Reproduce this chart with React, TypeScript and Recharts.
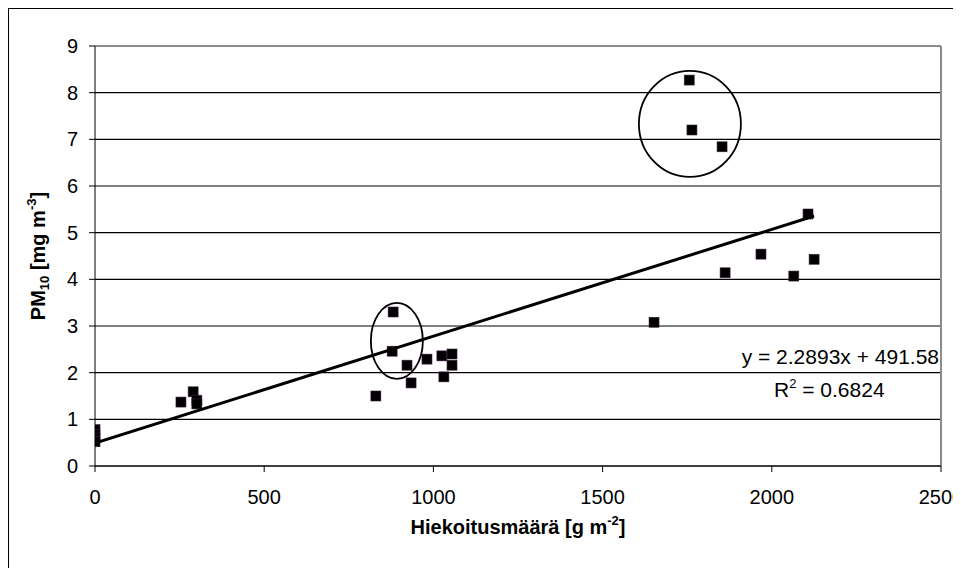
import React from "react";
import {
  ScatterChart,
  Scatter,
  XAxis,
  YAxis,
  CartesianGrid,
  ReferenceLine,
  ReferenceDot,
  Label,
} from "recharts";

// Hiekoitusmäärä [g m-2] vs PM10 [mg m-3]
const sandX = [0, 0, 0, 0, 254, 290, 301, 301, 830, 881, 878, 922, 934, 981, 1025, 1055, 1055, 1031, 1652, 1756, 1764, 1853, 1862, 1968, 2065, 2107, 2125];
const pm10 = [0.78, 0.68, 0.6, 0.52, 1.37, 1.59, 1.41, 1.33, 1.5, 3.3, 2.46, 2.16, 1.78, 2.29, 2.36, 2.4, 2.16, 1.91, 3.08, 8.27, 7.2, 6.84, 4.14, 4.54, 4.07, 5.4, 4.43];

const xTicks = [0, 500, 1000, 1500, 2000, 2500];
const yTicks = [0, 1, 2, 3, 4, 5, 6, 7, 8, 9];

// trend from the equation shown (x in g m-2, y in mg m-3)
const slope = 2.2893;
const intercept = 491.58;

// circled groups: centre x, centre y
const circles = [
  { x: 1758, y: 7.33, rx: 51, ry: 53 },
  { x: 892, y: 2.68, rx: 26, ry: 38 },
];

const points = sandX.map((x, i) => ({ x, y: pm10[i] }));
const xMax = Math.max(...sandX);
const trend = [0, xMax].map((x) => ({ x, y: (slope * x + intercept) / 1000 }));

const font = "'Liberation Sans', Arial, sans-serif";

const Square = (props: any) => (
  <rect x={props.cx - 5} y={props.cy - 5} width={10} height={10} fill="#000" stroke="#402040" strokeWidth={0.6} />
);

const YTitle = (props: any) => {
  const vb = props.viewBox;
  const cx = 37;
  const cy = vb.y + vb.height / 2;
  return (
    <text x={cx} y={cy} transform={`rotate(-90 ${cx} ${cy})`} textAnchor="middle" fontFamily={font} fontWeight="bold" fontSize={20} fill="#000">
      PM<tspan fontSize={13} dy={4}>10</tspan>
      <tspan dy={-4}> [mg m</tspan>
      <tspan fontSize={13} dy={-9}>-3</tspan>
      <tspan dy={9}>]</tspan>
    </text>
  );
};

const XTitle = (props: any) => {
  const vb = props.viewBox;
  const cx = vb.x + vb.width / 2;
  const cy = 526;
  return (
    <text x={cx} y={cy} textAnchor="middle" fontFamily={font} fontWeight="bold" fontSize={20} fill="#000">
      Hiekoitusmäärä [g m<tspan fontSize={13} dy={-9}>-2</tspan>
      <tspan dy={9}>]</tspan>
    </text>
  );
};

export default function App() {
  return (
    <div>
      <style>{`body{overflow:hidden}`}</style>
      <div style={{ position: "relative", width: 953, height: 560, overflow: "hidden" }}>
        <div style={{ position: "absolute", left: 0, top: 0, width: 1000, height: 600, border: "1.5px solid #000", boxSizing: "border-box" }} />
        <ScatterChart width={953} height={560} margin={{ top: 38, right: 20, left: 0, bottom: 42 }}>
          <CartesianGrid vertical={false} stroke="#000" strokeWidth={1.2} />
          <XAxis
            type="number"
            dataKey="x"
            domain={[0, 2500]}
            ticks={xTicks}
            tickSize={6}
            tickMargin={18}
            height={60}
            stroke="#000"
            tick={{ fill: "#000", fontSize: 20, fontFamily: font }}
            allowDataOverflow
          >
            <Label content={<XTitle />} />
          </XAxis>
          <YAxis
            type="number"
            dataKey="y"
            domain={[0, 9]}
            ticks={yTicks}
            tickSize={6}
            tickMargin={11}
            width={87}
            stroke="#000"
            tick={{ fill: "#000", fontSize: 20, fontFamily: font }}
            allowDataOverflow
          >
            <Label content={<YTitle />} />
          </YAxis>
          <ReferenceLine y={9} stroke="#8c8c8c" strokeWidth={2} />
          <ReferenceLine x={2500} stroke="#8c8c8c" strokeWidth={2} />
          <Scatter data={points} shape={<Square />} isAnimationActive={false} />
          <Scatter data={trend} line={{ stroke: "#000", strokeWidth: 3 }} shape={() => null} isAnimationActive={false} />
          {circles.map((c, i) => (
            <ReferenceDot
              key={i}
              x={c.x}
              y={c.y}
              r={1}
              shape={(p: any) => <ellipse cx={p.cx} cy={p.cy} rx={c.rx} ry={c.ry} fill="none" stroke="#000" strokeWidth={1.8} />}
            />
          ))}
        </ScatterChart>
        <div style={{ position: "absolute", right: 22, top: 337, fontFamily: font, fontSize: 21, lineHeight: "24px", color: "#000", whiteSpace: "nowrap" }}>
          y = 2.2893x + 491.58
        </div>
        <div style={{ position: "absolute", left: 766, top: 370, fontFamily: font, fontSize: 21, lineHeight: "24px", color: "#000", whiteSpace: "nowrap" }}>
          R<sup style={{ fontSize: 13, verticalAlign: "9px", lineHeight: 0 }}>2</sup> = 0.6824
        </div>
      </div>
    </div>
  );
}
